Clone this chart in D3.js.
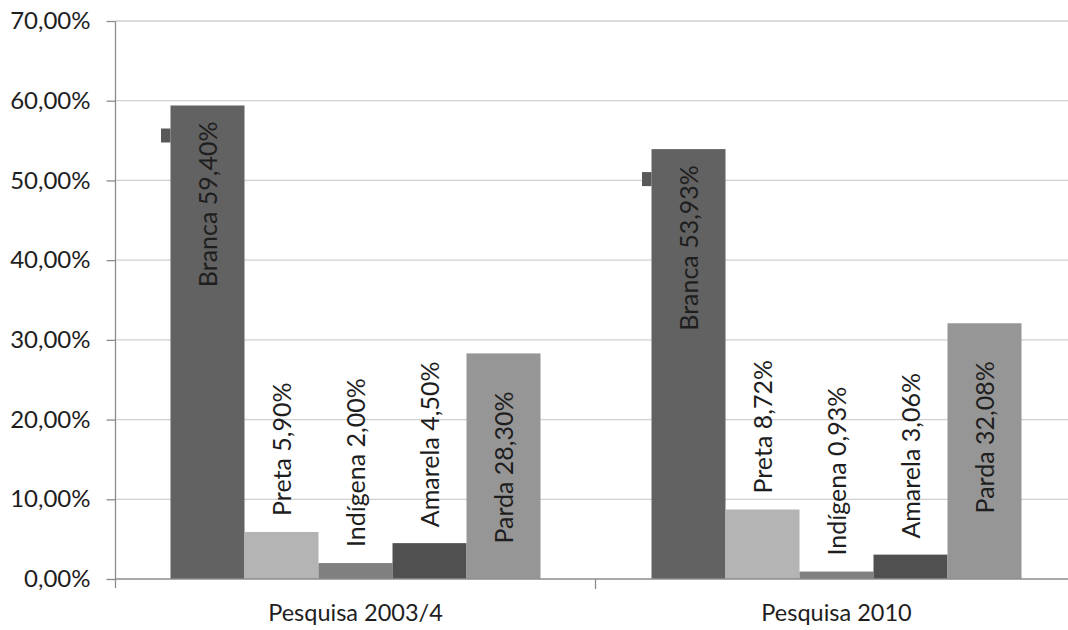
<!DOCTYPE html>
<html>
<head>
<meta charset="utf-8">
<script src="https://cdn.jsdelivr.net/npm/d3@7"></script>
<style>
  html, body { margin: 0; padding: 0; background: #fff; }
  svg text { font-family: Lato, "Open Sans", sans-serif; fill: #1e1e1e; }
</style>
</head>
<body>
<svg id="chart" width="1068" height="630"></svg>
<script>
// Survey groups along the x axis
const surveys = ["Pesquisa 2003/4", "Pesquisa 2010"];
// Colour / race categories (one bar each inside a survey group)
const races = ["Branca", "Preta", "Indígena", "Amarela", "Parda"];
// Share of each category, in percent, per survey
const values2003 = [59.40, 5.90, 2.00, 4.50, 28.30];
const values2010 = [53.93, 8.72, 0.93, 3.06, 32.08];
// Y axis tick values
const yTicks = [0, 10, 20, 30, 40, 50, 60, 70];

const seriesValues = [values2003, values2010];
const fills = {
  "Branca": "#626262",
  "Preta": "#b4b4b4",
  "Indígena": "#808080",
  "Amarela": "#505050",
  "Parda": "#969696"
};
// label placement: inside the top of the bar, or just above it
const labelMode = { "Branca": "inside", "Preta": "outside", "Indígena": "outside", "Amarela": "outside", "Parda": "inside" };
const insideOffset = { "Branca": 16, "Parda": 38 };

const svg = d3.select("#chart");
const plotLeft = 116, plotRight = 1078, plotTop = 21, plotBottom = 579;

const fmt = v => d3.format(".2f")(v).replace(".", ",") + "%";

const y = d3.scaleLinear().domain([0, 70]).range([plotBottom, plotTop]);
const x0 = d3.scaleBand().domain(surveys).range([plotLeft, plotRight]).paddingInner(0).paddingOuter(0);
// 5 bars + gap of 1.5 bar widths per group
const x1 = d3.scaleBand().domain(races).range([0, x0.bandwidth()]).paddingInner(0).paddingOuter(0.75);

// Gridlines
svg.append("g")
  .selectAll("line")
  .data(yTicks.filter(t => t > 0))
  .join("line")
  .attr("x1", plotLeft).attr("x2", 1068)
  .attr("y1", d => y(d)).attr("y2", d => y(d))
  .attr("stroke", "#d0d0d0").attr("stroke-width", 1.3);

// Y axis
const yAxis = d3.axisLeft(y).tickValues(yTicks).tickSize(9).tickPadding(16).tickFormat(fmt);
const gy = svg.append("g").attr("transform", `translate(${plotLeft - 0.5},0)`).call(yAxis);
gy.select(".domain").attr("stroke", "#8c8c8c").attr("stroke-width", 1.3).attr("d", `M0,${plotTop}V${plotBottom + 9}`);
gy.selectAll(".tick line").attr("stroke", "#8c8c8c").attr("stroke-width", 1.3);
gy.selectAll(".tick text").attr("font-size", 24).attr("font-family", "Lato, sans-serif").attr("fill", "#1e1e1e");

// Bars
const groups = svg.append("g")
  .selectAll("g")
  .data(surveys.map((s, i) => ({ survey: s, vals: seriesValues[i] })))
  .join("g")
  .attr("transform", d => `translate(${x0(d.survey) - 1},0)`);

groups.selectAll("rect.bar")
  .data(d => races.map((r, j) => ({ race: r, value: d.vals[j] })))
  .join("rect")
  .attr("class", "bar")
  .attr("x", d => x1(d.race))
  .attr("y", d => y(d.value))
  .attr("width", x1.bandwidth())
  .attr("height", d => plotBottom - y(d.value))
  .attr("fill", d => fills[d.race]);

// Small legend-key marker beside the Branca label
groups.selectAll("rect.key")
  .data(d => [{ race: races[0], value: d.vals[0] }])
  .join("rect")
  .attr("class", "key")
  .attr("x", d => x1(d.race) - 9.5)
  .attr("y", d => y(d.value) + 23)
  .attr("width", 9.5)
  .attr("height", 14)
  .attr("fill", "#595959");

// Rotated value labels
groups.selectAll("text.lbl")
  .data(d => races.map((r, j) => ({ race: r, value: d.vals[j] })))
  .join("text")
  .attr("class", "lbl")
  .attr("font-size", 25)
  .attr("transform", d => {
    const cx = x1(d.race) + x1.bandwidth() / 2 + 9.5;
    const yTop = y(d.value);
    const anchorY = labelMode[d.race] === "inside" ? yTop + insideOffset[d.race] : yTop - 16;
    return `translate(${cx},${anchorY}) rotate(-90)`;
  })
  .attr("text-anchor", d => labelMode[d.race] === "inside" ? "end" : "start")
  .text(d => `${d.race} ${fmt(d.value)}`);

// X axis
svg.append("line")
  .attr("x1", plotLeft).attr("x2", 1068)
  .attr("y1", plotBottom).attr("y2", plotBottom)
  .attr("stroke", "#8c8c8c").attr("stroke-width", 1.3);
svg.append("g")
  .selectAll("line")
  .data(surveys.slice(1))
  .join("line")
  .attr("x1", d => x0(d) - 1.5).attr("x2", d => x0(d) - 1.5)
  .attr("y1", plotBottom).attr("y2", plotBottom + 10)
  .attr("stroke", "#8c8c8c").attr("stroke-width", 1.3);

svg.append("g")
  .selectAll("text")
  .data(surveys)
  .join("text")
  .attr("x", d => x0(d) + x0.bandwidth() / 2 - 1)
  .attr("y", 621)
  .attr("text-anchor", "middle")
  .attr("font-size", 23.5)
  .text(d => d);
</script>
</body>
</html>
